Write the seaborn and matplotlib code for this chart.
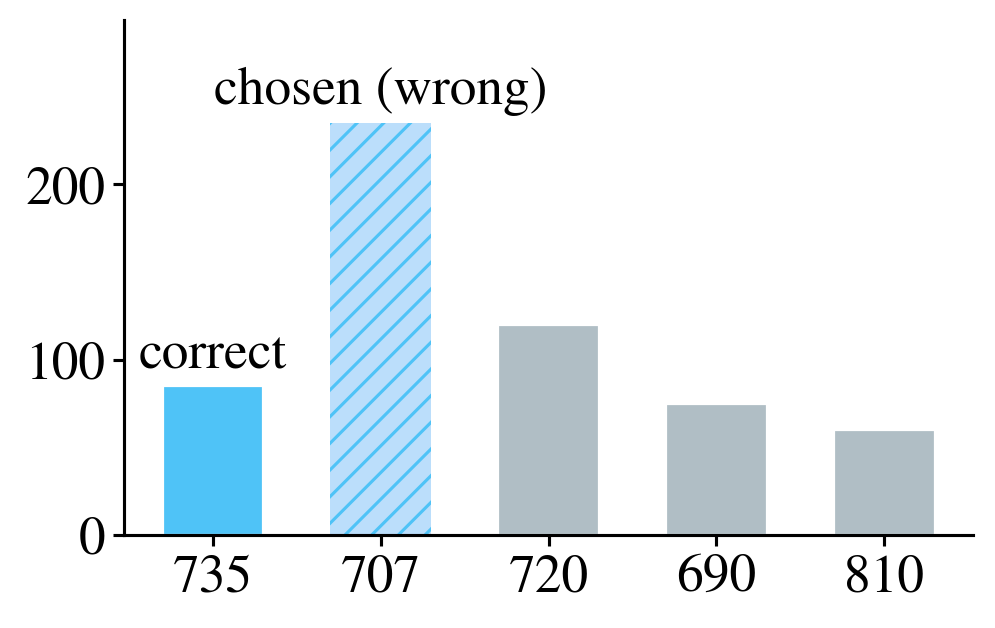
import matplotlib.pyplot as plt
import seaborn as sns

answers = ["735", "707", "720", "690", "810"]
votes = [85, 235, 120, 75, 60]
bar_colors = ["#4FC3F7", "#BBDEFB", "#B0BEC5", "#B0BEC5", "#B0BEC5"]
correct_idx = 0
chosen_idx = 1

sns.set_style("ticks")
plt.rcParams['font.family'] = ['STIXGeneral', 'DejaVu Serif']
plt.rcParams['hatch.linewidth'] = 1.4
plt.rcParams['text.color'] = 'black'
plt.rcParams['xtick.color'] = 'black'
plt.rcParams['ytick.color'] = 'black'
plt.rcParams['axes.edgecolor'] = 'black'

fig, ax = plt.subplots(figsize=(995 / 160, 628 / 160), dpi=160)
sns.barplot(x=answers, y=votes, hue=answers, palette=bar_colors, order=answers,
            width=0.6, legend=False, saturation=1, ax=ax)

bar = ax.patches[chosen_idx]
bar.set_hatch('//')
bar.set_edgecolor('#4FC3F7')
bar.set_linewidth(0)

ax.annotate("correct", (correct_idx, votes[correct_idx]), xytext=(0, 3),
            textcoords='offset points', ha='center', va='bottom', fontsize=24)
ax.annotate("chosen (wrong)", (chosen_idx, votes[chosen_idx]), xytext=(0, 3),
            textcoords='offset points', ha='center', va='bottom', fontsize=24)

ax.set_xlim(-0.53, 4.53)
ax.set_ylim(0, max(votes) * 1.25)
ax.set_yticks([0, 100, 200])
ax.set_xlabel("")
ax.set_ylabel("")
ax.tick_params(labelsize=24, width=1.4, length=5)
for s in ["left", "bottom"]:
    ax.spines[s].set_linewidth(1.4)
sns.despine(ax=ax)

fig.subplots_adjust(left=0.1246, right=0.978, top=0.968, bottom=0.148)
plt.savefig("out.png", dpi=160)
plt.close()
